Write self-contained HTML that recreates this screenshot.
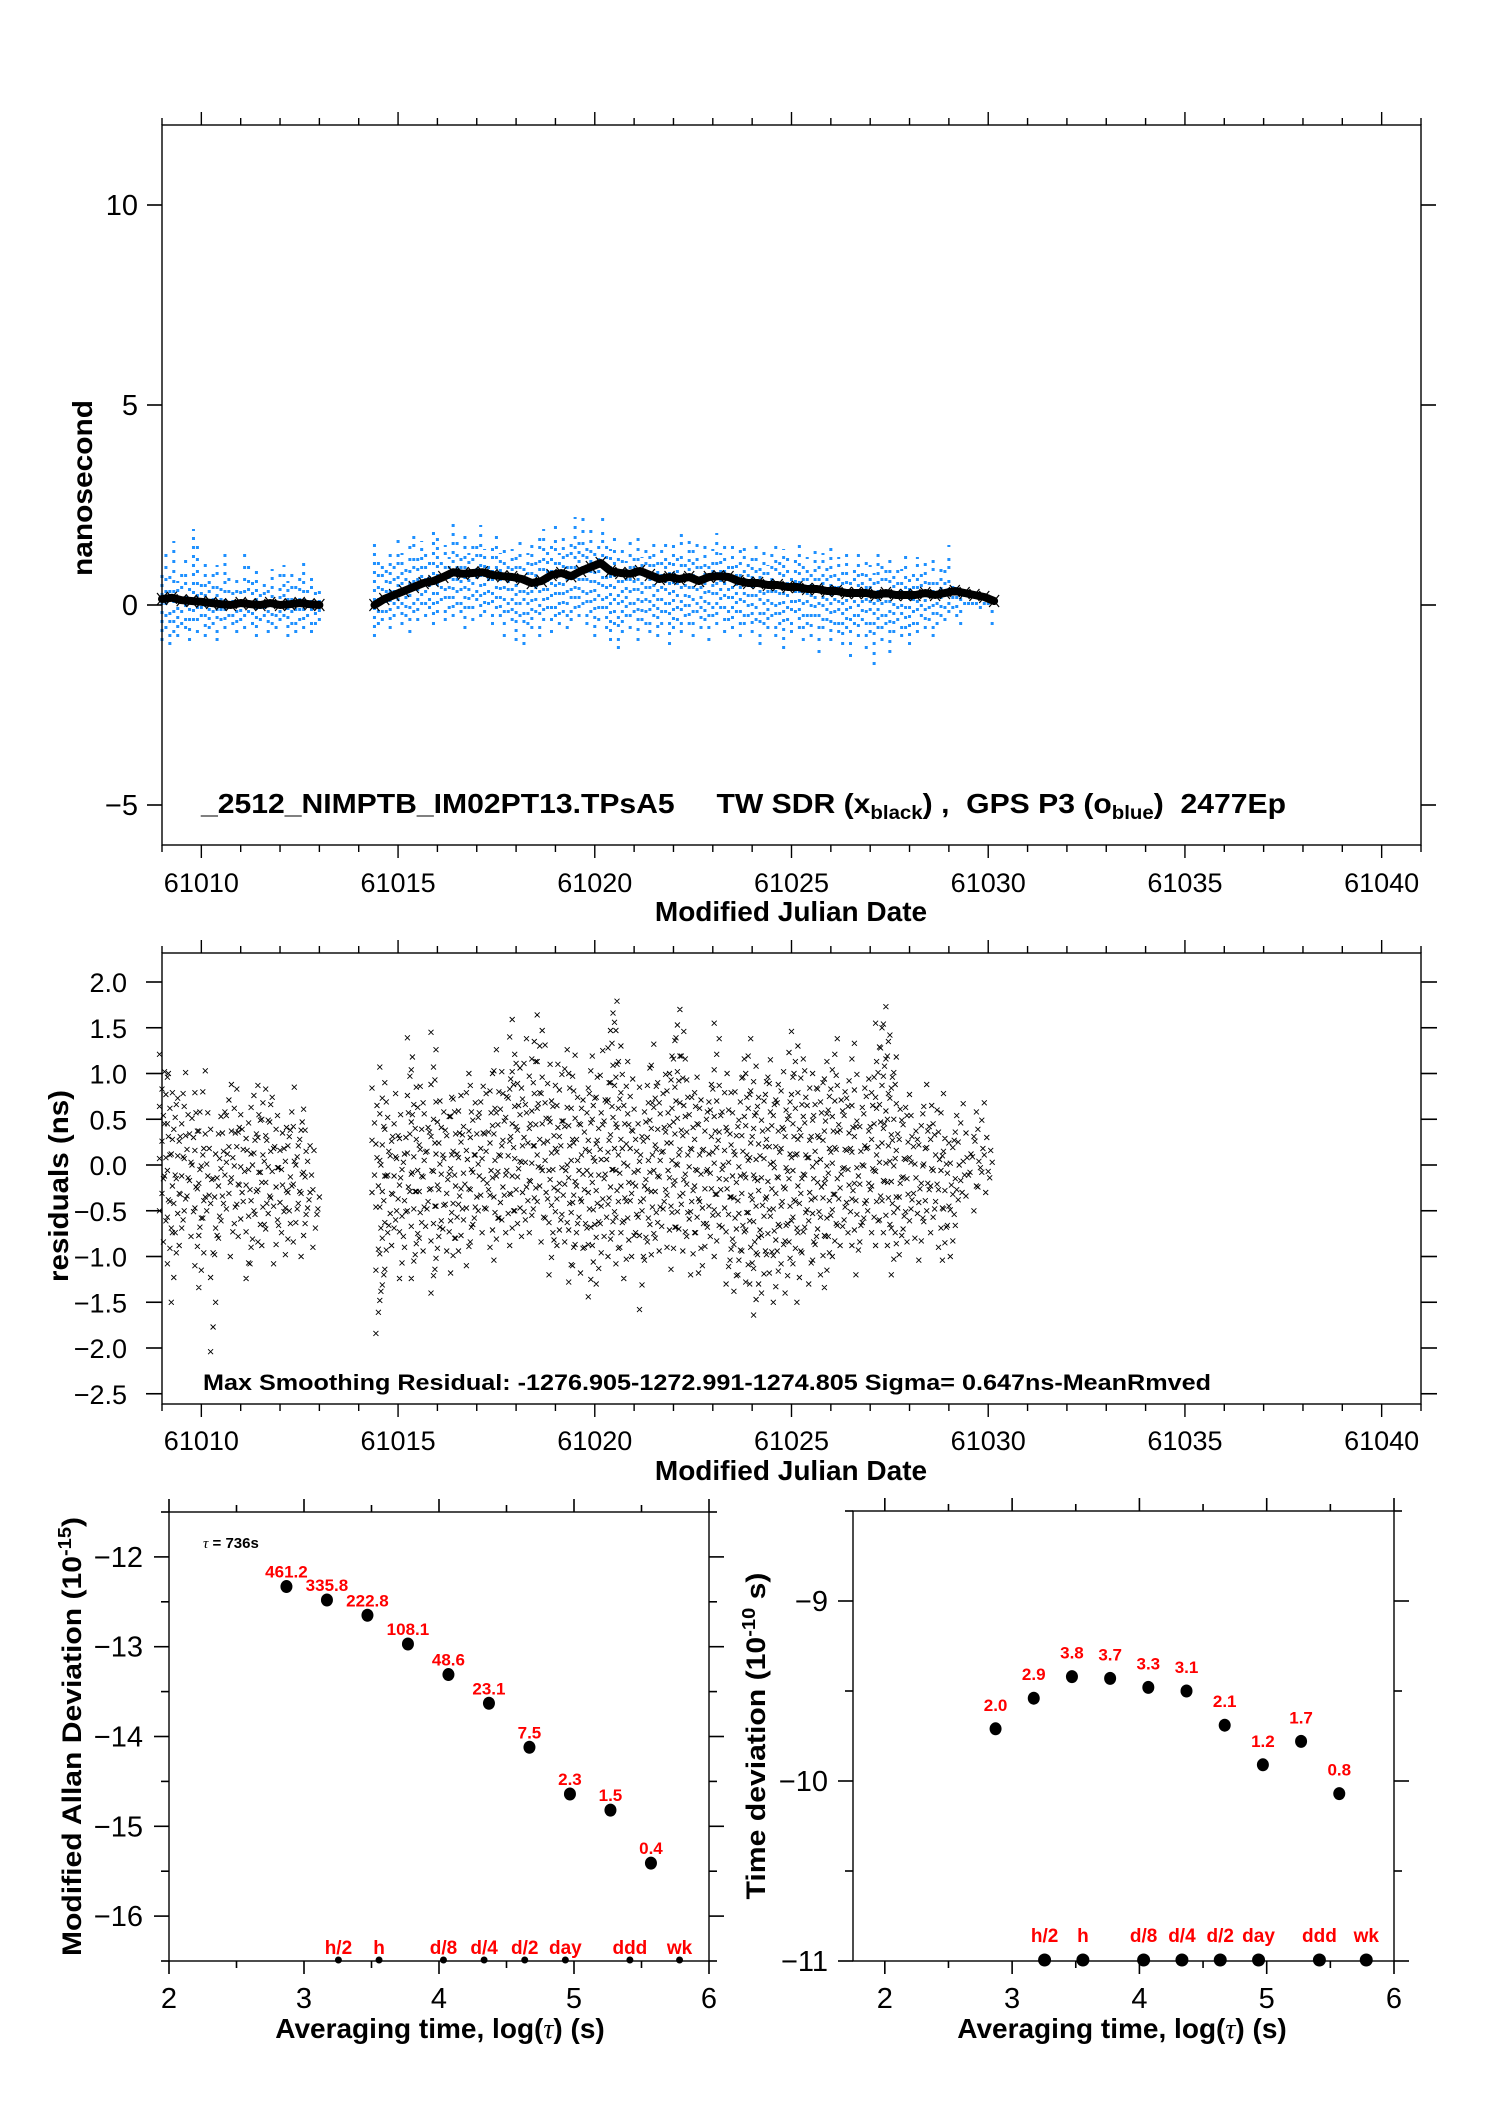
<!DOCTYPE html>
<html><head><meta charset="utf-8"><style>
html,body{margin:0;padding:0;background:#fff}
svg{display:block;font-family:"Liberation Sans",Arial,sans-serif}
</style></head><body>
<svg id="root" width="1488" height="2105" viewBox="0 0 1488 2105" xmlns="http://www.w3.org/2000/svg">
<rect width="1488" height="2105" fill="#fff"/>
<g id="p1"></g>
<g id="p2"></g>
<g id="p3"></g>
<g id="p4"></g>
</svg>
<script>
// ---------- data ----------
const smooth1Start = 61009.0, smooth1Step = 0.25;
const smooth1 = [0.15,0.18,0.12,0.1,0.08,0.05,0.02,0.0,0.05,0.02,0.0,0.05,0.0,0.02,0.05,0.02,0.0];
const smooth2Start = 61014.4, smooth2Step = 0.25;
const smooth2 = [0.0,0.15,0.25,0.35,0.45,0.55,0.6,0.7,0.82,0.78,0.8,0.82,0.75,0.72,0.7,0.65,0.55,0.6,0.75,0.8,0.72,0.85,0.95,1.05,0.85,0.8,0.78,0.85,0.75,0.65,0.7,0.65,0.7,0.6,0.7,0.72,0.7,0.6,0.55,0.55,0.5,0.5,0.45,0.45,0.4,0.4,0.35,0.35,0.3,0.3,0.3,0.25,0.3,0.25,0.25,0.25,0.3,0.25,0.3,0.35,0.3,0.25,0.2,0.1];
const blue1Start = 61009.0, blue2Start = 61014.4, blueStep = 0.1;
const blueHi1 = [0.9,1.3,0.8,1.6,0.6,0.9,1.2,0.5,1.9,1.6,0.8,1.1,0.7,0.9,1.0,0.6,1.3,0.8,0.5,0.7,0.4,1.3,1.1,0.6,0.9,0.5,0.7,0.4,0.9,0.3,0.8,1.0,0.6,0.9,0.5,0.7,1.1,0.6,0.8,0.4,0.5];
const blueLo1 = [-0.9,-0.6,-1.0,-0.7,-0.8,-0.5,-0.6,-0.9,-0.4,-0.7,-0.3,-0.8,-0.6,-0.5,-0.9,-0.4,-0.6,-0.3,-0.5,-0.7,-0.4,-0.6,-0.2,-0.5,-0.8,-0.4,-0.3,-0.7,-0.5,-0.6,-0.4,-0.3,-0.8,-0.5,-0.7,-0.4,-0.6,-0.3,-0.7,-0.5,-0.4];
const blueHi2 = [1.6,1.2,1.0,0.9,1.4,1.1,1.7,1.3,1.0,1.5,1.8,1.2,1.6,1.4,1.1,1.9,1.7,1.3,1.5,1.2,2.1,1.6,1.4,1.9,1.3,1.7,1.5,2.0,1.4,1.2,1.6,1.8,1.3,1.5,1.1,1.4,1.2,1.7,1.0,1.3,1.5,1.2,1.8,1.9,1.4,1.6,2.0,1.3,1.7,1.5,1.8,2.2,1.6,2.3,1.5,1.9,1.4,1.7,2.2,1.6,1.4,1.8,1.3,1.5,1.1,1.6,1.4,1.8,1.2,1.5,1.3,1.7,1.1,1.4,1.6,1.2,1.5,1.3,1.9,1.2,1.7,1.4,1.6,1.1,1.5,1.2,1.4,1.8,1.3,1.6,1.2,1.5,1.0,1.4,1.7,1.1,1.3,1.6,1.2,1.4,1.0,1.3,1.5,1.1,1.4,1.2,0.9,1.3,1.6,1.1,1.2,0.9,1.4,1.0,1.3,1.1,1.5,0.9,1.2,1.0,1.3,0.8,1.1,1.4,0.9,1.2,1.0,0.8,1.3,1.1,1.0,1.2,0.8,1.1,0.9,1.3,0.7,1.0,1.2,0.9,1.1,0.8,1.4,0.7,1.0,0.9,1.5,0.6,0.5,0.4,0.3,0.2,0.2,0.1,0.1,0.1,0.1,0.1];
const blueLo2 = [-0.8,-0.5,-0.4,-0.2,-0.6,-0.3,-0.1,-0.5,-0.3,-0.7,-0.2,-0.4,0.0,-0.3,-0.1,-0.5,-0.2,0.1,-0.4,-0.1,-0.3,0.0,-0.2,-0.6,-0.1,-0.4,0.1,-0.3,-0.2,0.0,-0.5,-0.1,-0.3,-0.8,-0.2,-0.4,-0.9,-0.3,-1.0,-0.5,-0.6,-0.2,-0.8,-0.4,-0.1,-0.7,-0.3,-0.5,-0.2,-0.6,-0.4,-0.1,-0.3,0.0,-0.5,-0.2,-0.8,-0.4,-0.1,-0.6,-0.9,-0.5,-1.1,-0.7,-0.3,-0.6,-0.2,-0.9,-0.4,-0.5,-0.7,-0.3,-0.8,-0.5,-0.2,-1.0,-0.6,-0.4,-0.7,-0.3,-0.5,-0.8,-0.2,-0.6,-0.4,-0.9,-0.3,-0.5,-0.1,-0.7,-0.4,-0.6,-0.2,-0.8,-0.5,-0.3,-0.7,-0.4,-1.0,-0.5,-0.6,-0.3,-0.8,-0.5,-1.1,-0.4,-0.7,-0.2,-0.6,-0.9,-0.5,-0.8,-0.3,-1.2,-0.6,-0.4,-0.9,-0.5,-0.7,-1.0,-0.6,-1.3,-0.5,-0.8,-0.4,-1.1,-0.7,-1.5,-0.6,-0.9,-0.5,-1.2,-0.7,-0.4,-0.8,-0.6,-1.0,-0.5,-0.7,-0.3,-0.6,-0.4,-0.8,-0.5,-0.3,-0.4,-0.2,-0.1,-0.3,-0.5,0.0,0.0,0.0,0.0,-0.1,0.0,0.0,-0.5];
const resHi1 = [1.3,1.1,1.0,0.9,0.8,0.7,1.2,0.6,0.7,0.8,0.4,1.1,0.3,0.5,0.2,0.6,0.7,1.0,0.5,0.9,0.6,0.4,0.7,0.5,0.8,1.0,0.6,0.9,0.8,0.5,0.7,0.6,0.4,0.9,0.5,0.6,0.7,0.4,0.3,-0.1,-0.2];
const resLo1 = [-0.5,-0.9,-1.2,-1.5,-0.8,-1.0,-0.6,-0.4,-0.9,-1.1,-1.4,-0.7,-0.5,-2.1,-1.1,-0.8,-0.4,-0.6,-1.0,-0.7,-0.9,-0.3,-1.3,-1.2,-0.5,-0.9,-1.0,-0.7,-0.4,-1.2,-0.6,-0.8,-1.1,-0.5,-0.9,-0.6,-1.0,-0.7,-0.5,-0.9,-0.6];
const resHi2 = [0.9,0.4,1.1,0.9,0.7,0.5,0.8,0.4,0.6,1.4,1.2,0.9,0.6,0.8,0.5,1.6,1.1,0.7,0.4,0.9,0.8,0.6,0.9,0.5,1.2,0.9,0.7,1.0,0.6,0.8,1.1,1.4,0.8,1.2,1.0,1.6,1.3,1.1,1.4,0.8,1.5,1.2,1.8,0.9,1.4,0.8,1.1,1.0,0.6,1.4,1.0,1.3,0.7,0.9,0.8,1.1,1.2,0.8,1.4,0.9,1.7,1.8,1.5,1.2,1.0,1.3,0.8,0.6,1.1,0.8,1.2,1.4,0.9,0.7,1.0,1.2,1.4,1.8,1.6,1.3,1.1,0.8,1.0,0.9,0.7,1.0,0.9,1.7,0.8,1.1,0.9,1.0,0.6,1.1,1.2,1.4,0.9,1.1,0.8,1.0,1.3,1.1,0.9,0.8,1.1,0.7,1.5,1.3,0.9,1.2,1.1,0.7,1.0,0.9,1.1,1.3,1.0,1.5,1.1,0.9,1.1,0.8,1.4,0.6,0.9,1.1,0.7,1.2,1.8,1.7,1.8,1.5,1.3,1.0,0.6,0.8,0.9,0.7,0.4,0.8,0.6,0.9,0.5,0.7,0.8,0.4,0.3,0.5,0.8,0.7,0.2,0.5,0.3,0.6,0.4,0.8,0.3,0.1];
const resLo2 = [-0.3,-1.9,-1.6,-1.2,-0.8,-1.0,-0.6,-1.3,-0.9,-0.5,-1.3,-1.1,-0.8,-1.0,-0.6,-1.4,-1.2,-0.9,-0.7,-1.0,-1.3,-0.8,-1.0,-0.6,-1.1,-0.9,-0.7,-0.5,-0.8,-0.6,-0.9,-1.1,-0.7,-0.6,-0.8,-1.0,-0.5,-0.7,-0.9,-0.6,-0.8,-0.6,-0.4,-0.9,-0.7,-1.2,-0.8,-1.0,-0.6,-0.9,-1.4,-1.1,-0.8,-1.3,-0.9,-1.5,-1.0,-1.3,-0.7,-0.9,-1.0,-0.8,-1.2,-0.9,-1.3,-0.7,-1.0,-0.8,-1.7,-1.0,-0.9,-1.1,-0.8,-1.0,-0.6,-0.9,-1.2,-0.8,-0.7,-1.0,-0.9,-1.2,-0.8,-1.3,-1.1,-0.7,-0.9,-1.0,-0.6,-0.8,-1.3,-1.1,-1.5,-1.2,-1.0,-1.4,-1.3,-1.7,-1.1,-1.4,-1.0,-1.3,-1.5,-1.0,-1.2,-1.4,-0.9,-1.2,-1.5,-1.0,-0.8,-1.3,-1.1,-0.9,-1.2,-1.4,-0.9,-1.0,-0.7,-1.0,-0.6,-0.8,-1.0,-1.2,-0.9,-0.7,-0.5,-0.8,-1.0,-0.6,-0.8,-1.0,-1.2,-0.8,-1.1,-0.7,-0.9,-0.6,-0.8,-1.1,-0.7,-0.5,-0.8,-0.6,-0.9,-1.1,-0.8,-1.0,-0.6,-0.5,-0.3,-0.4,-0.2,-0.5,-0.3,-0.2,-0.3,-0.2];
const logTau = [2.87,3.17,3.47,3.77,4.07,4.37,4.67,4.97,5.27,5.57];
const mdev = [-12.33,-12.48,-12.65,-12.97,-13.31,-13.63,-14.12,-14.64,-14.82,-15.41];
const mdevLabels = ["461.2","335.8","222.8","108.1","48.6","23.1","7.5","2.3","1.5","0.4"];
const tdev = [-9.71,-9.54,-9.42,-9.43,-9.48,-9.50,-9.69,-9.91,-9.78,-10.07];
const tdevLabels = ["2.0","2.9","3.8","3.7","3.3","3.1","2.1","1.2","1.7","0.8"];
const markerNames = ["h/2","h","d/8","d/4","d/2","day","ddd","wk"];
const markerLogTau = [3.255,3.556,4.033,4.334,4.635,4.936,5.414,5.782];
const mjdTicks = [61010,61015,61020,61025,61030,61035,61040];
const p1YTicks = [-5,0,5,10];
const p2YTicks = [-2.5,-2.0,-1.5,-1.0,-0.5,0.0,0.5,1.0,1.5,2.0];
const mdevYTicks = [-16,-15,-14,-13,-12];
const tdevYTicks = [-11,-10,-9];
const tauTicks = [2,3,4,5,6];

// ---------- helpers ----------
const NS='http://www.w3.org/2000/svg';
function mk(parent,tag,attrs,text){const e=document.createElementNS(NS,tag);for(const k in attrs)e.setAttribute(k,attrs[k]);if(text!==undefined)e.textContent=text;parent.appendChild(e);return e;}
function lin(d0,d1,r0,r1){return v=>r0+(v-d0)*(r1-r0)/(d1-d0);}
function fmt(v,dec){return (v<0?'\u2212':'')+Math.abs(v).toFixed(dec);}

function frame(g,L,T,R,B){
  const f=mk(g,'rect',{x:L,y:T,width:R-L,height:B-T,fill:'none',stroke:'#000','stroke-width':1.4});
  
  
}
function xTicksMJD(g,x,T,B,labelY){
  for(let d=61009;d<=61041;d++){
    const len=(d%5===0)?13:7;const px=x(d);
    mk(g,'line',{x1:px,y1:T,x2:px,y2:T-len,stroke:'#000','stroke-width':1.4});
    mk(g,'line',{x1:px,y1:B,x2:px,y2:B+len,stroke:'#000','stroke-width':1.4});
  }
  mjdTicks.forEach(v=>{const t=mk(g,'text',{x:x(v),y:labelY,'font-size':27,'text-anchor':'middle'},String(v));
    
    });
}
function yTicks(g,y,ticks,L,R,len,dec,fs,lx){
  ticks.forEach(v=>{const py=y(v);
    mk(g,'line',{x1:L-len,y1:py,x2:L,y2:py,stroke:'#000','stroke-width':1.6});
    mk(g,'line',{x1:R,y1:py,x2:R+len,y2:py,stroke:'#000','stroke-width':1.6});
    const t=mk(g,'text',{x:lx,y:py+10,'font-size':fs,'text-anchor':'end'},fmt(v,dec));
    
    
  });
}

// ---------- panel 1 ----------
(function(){
  const g=document.getElementById('p1');
  const L=162,R=1421,T=125,B=845;
  const x=lin(61009,61041,L,R), y=lin(0,10,605,205);
  const bg=mk(g,'g',{stroke:'#1e90ff','stroke-width':3});
  
  
  const dashes=['3 6','3 9','3 5 3 11','3 7'];
  function blue(start,lo,hi){lo.forEach((v,i)=>{const px=x(start+i*blueStep);
    const l=mk(bg,'line',{x1:px,y1:y(v),x2:px,y2:y(hi[i]),'stroke-dasharray':dashes[i%4]});
    
    });}
  blue(blue1Start,blueLo1,blueHi1); blue(blue2Start,blueLo2,blueHi2);
  const kg=mk(g,'g',{fill:'none',stroke:'#000'});
  
  
  function blk(start,step,arr){
    const pts=arr.map((v,i)=>x(start+i*step).toFixed(1)+','+y(v).toFixed(1)).join(' ');
    const p=mk(kg,'polyline',{points:pts,'stroke-width':8,'stroke-linejoin':'round','stroke-linecap':'round'});
    
    
    arr.forEach((v,i)=>{const px=x(start+i*step),py=y(v);
      mk(kg,'path',{d:`M${px-5},${py-6}L${px+5},${py+6}M${px-5},${py+6}L${px+5},${py-6}`,'stroke-width':1.2});});
  }
  blk(smooth1Start,smooth1Step,smooth1); blk(smooth2Start,smooth2Step,smooth2);
  frame(g,L,T,R,B);
  xTicksMJD(g,x,T,B,892);
  yTicks(g,y,p1YTicks,L,R,15,0,29,138);
  let t=mk(g,'text',{x:791,y:921,'font-size':28,'font-weight':'bold','text-anchor':'middle'},'Modified Julian Date');
  
  t=mk(g,'text',{transform:'translate(92,488) rotate(-90)','font-size':28,'font-weight':'bold','text-anchor':'middle',textLength:176,lengthAdjust:'spacingAndGlyphs'},'nanosecond');
  
  t=mk(g,'text',{x:201,y:813,'font-size':28,'font-weight':'bold',textLength:1085,lengthAdjust:'spacingAndGlyphs'});
  
  t.innerHTML='_2512_NIMPTB_IM02PT13.TPsA5\u00a0\u00a0\u00a0\u00a0 TW SDR (x<tspan font-size="19" dy="6">black</tspan><tspan dy="-6">) ,\u00a0 GPS P3 (o</tspan><tspan font-size="19" dy="6">blue</tspan><tspan dy="-6">)\u00a0 2477Ep</tspan>';
})();

// ---------- panel 2 ----------
(function(){
  const g=document.getElementById('p2');
  const L=162,R=1421,T=953,B=1404;
  const x=lin(61009,61041,L,R), y=lin(0,2,1165,982);
  const mg=mk(g,'g',{stroke:'#000','stroke-width':0.9,fill:'none'});
  
  
  const steps=[0.19,0.23,0.17,0.27,0.21];
  function res(start,lo,hi){lo.forEach((v,i)=>{const t=start+i*blueStep;
    let d='';let k=0;const st=steps[i%5];
    for(let r=v+(i%3)*0.06;r<=hi[i]+1e-9;r+=st){const px=x(t)+((k++%3)-1)*2.5,py=y(r);
      d+=`M${(px-2.5).toFixed(1)},${(py-2.5).toFixed(1)}l5,5m-5,0l5,-5`;}
    const p=mk(mg,'path',{d:d});
    
    });}
  res(blue1Start,resLo1,resHi1); res(blue2Start,resLo2,resHi2);
  frame(g,L,T,R,B);
  xTicksMJD(g,x,T,B,1450);
  yTicks(g,y,p2YTicks,L,R,16,1,27,127);
  let t=mk(g,'text',{x:791,y:1480,'font-size':28,'font-weight':'bold','text-anchor':'middle'},'Modified Julian Date');
  
  t=mk(g,'text',{transform:'translate(68,1186) rotate(-90)','font-size':28,'font-weight':'bold','text-anchor':'middle',textLength:192,lengthAdjust:'spacingAndGlyphs'},'residuals (ns)');
  
  t=mk(g,'text',{x:203,y:1390,'font-size':22,'font-weight':'bold',textLength:1008,lengthAdjust:'spacingAndGlyphs'},'Max Smoothing Residual: -1276.905-1272.991-1274.805  Sigma= 0.647ns-MeanRmved');
  
})();

// ---------- stability panels ----------
function stabPanel(id,L,R,T,B,x0,x1,y0,y1,yticks,vals,labels,labelDy,markerR,markerLabY,lx,yTitleHTML,yTitleX,yTitleLen,xTitleX){
  const g=document.getElementById(id);
  const x=lin(x0,x1,L,R), y=lin(y0,y1,B,T);
  frame(g,L,T,R,B);
  for(let v=2;v<=6;v+=0.5){const px=x(v);const len=(v%1===0)?13:7;
    mk(g,'line',{x1:px,y1:T,x2:px,y2:T-len,stroke:'#000','stroke-width':1.6});
    mk(g,'line',{x1:px,y1:B,x2:px,y2:B+len,stroke:'#000','stroke-width':1.6});}
  tauTicks.forEach(v=>{const t=mk(g,'text',{x:x(v),y:2008,'font-size':29,'text-anchor':'middle'},String(v));
    });
  for(let v=y0;v<=y1+1e-9;v+=0.5){const py=y(v);const len=(Math.abs(v%1)<1e-9)?15:8;
    mk(g,'line',{x1:L-len,y1:py,x2:L,y2:py,stroke:'#000','stroke-width':1.6});
    mk(g,'line',{x1:R,y1:py,x2:R+len,y2:py,stroke:'#000','stroke-width':1.6});}
  yticks.forEach(v=>{const t=mk(g,'text',{x:lx,y:y(v)+10,'font-size':29,'text-anchor':'end'},fmt(v,0));
    });
  vals.forEach((v,i)=>{const px=x(logTau[i]),py=y(v);
    const c=mk(g,'ellipse',{cx:px,cy:py,rx:6,ry:6.5,fill:'#000'});
    
    const t=mk(g,'text',{x:px,y:py-labelDy,'font-size':17,'font-weight':'bold',fill:'#ff0000','text-anchor':'middle'},labels[i]);
    });
  markerLogTau.forEach((v,i)=>{const px=x(v);
    const c=mk(g,'circle',{cx:px,cy:B-1,r:markerR,fill:'#000'});
    
    const t=mk(g,'text',{x:px,y:markerLabY,'font-size':19,'font-weight':'bold',fill:'#ff0000','text-anchor':'middle'},markerNames[i]);
    });
  let t=mk(g,'text',{x:xTitleX,y:2038,'font-size':28,'font-weight':'bold','text-anchor':'middle'});
  t.innerHTML='Averaging time, log(<tspan font-family="Liberation Serif,serif" font-style="italic" font-weight="normal">\u03c4</tspan>) (s)';
  
  t=mk(g,'text',{transform:`translate(${yTitleX},${(T+B)/2}) rotate(-90)`,'font-size':27,'font-weight':'bold','text-anchor':'middle',textLength:yTitleLen,lengthAdjust:'spacingAndGlyphs'});
  t.innerHTML=yTitleHTML;
  
  return g;
}
const g3=stabPanel('p3',169,709,1512,1961,2,6,-16.5,-11.5,mdevYTicks,mdev,mdevLabels,9,3.5,1954,143,
  'Modified Allan Deviation (10<tspan font-size="18" dy="-10">-15</tspan><tspan dy="10">)</tspan>',81,439,440);
(function(){const t=mk(g3,'text',{x:203,y:1548,'font-size':15,'font-weight':'bold'});
  t.innerHTML='<tspan font-family="Liberation Serif,serif" font-style="italic" font-weight="normal">\u03c4</tspan> = 736s';
  })();
stabPanel('p4',853,1394,1511,1961,1.75,6,-11,-8.5,tdevYTicks,tdev,tdevLabels,18,6.5,1942,828,
  'Time deviation (10<tspan font-size="18" dy="-10">-10</tspan><tspan dy="10"> s)</tspan>',765,327,1122);
</script>
</body></html>
